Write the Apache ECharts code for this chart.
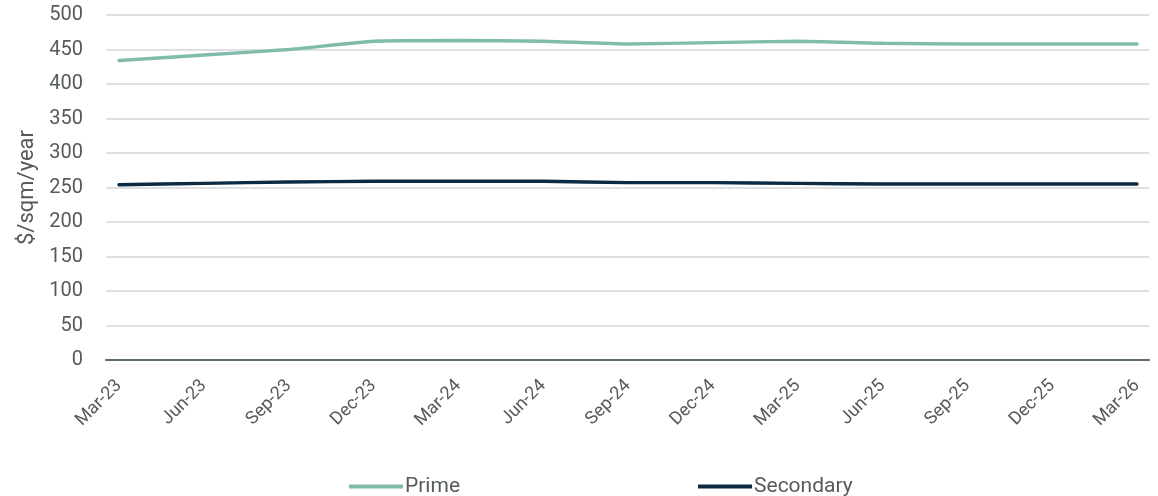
<!DOCTYPE html>
<html>
<head>
<meta charset="utf-8">
<script src="https://cdn.jsdelivr.net/npm/echarts@6/dist/echarts.min.js"></script>
<style>
  html, body { margin: 0; padding: 0; background: #ffffff; }
  #chart { width: 1158px; height: 496px; }
</style>
</head>
<body>
<div id="chart"></div>
<script>
// Quarterly rents, $/sqm/year
const quarters = ['Mar-23', 'Jun-23', 'Sep-23', 'Dec-23', 'Mar-24', 'Jun-24', 'Sep-24',
                  'Dec-24', 'Mar-25', 'Jun-25', 'Sep-25', 'Dec-25', 'Mar-26'];
const prime     = [434, 442, 450, 462, 463, 462, 458, 460, 462, 459, 458, 458, 458];
const secondary = [254, 256, 258, 259, 259, 259, 257, 257, 256, 255, 255, 255, 255];
const yTicks = { min: 0, max: 500, step: 50 };

const textColor = '#555a5e';
const fontFamily = 'Roboto, "Liberation Sans", sans-serif';

const chart = echarts.init(document.getElementById('chart'), null, { renderer: 'canvas' });

chart.setOption({
  animation: false,
  backgroundColor: '#ffffff',
  textStyle: { fontFamily: fontFamily },
  grid: [
    // frame grid: gridlines, y labels and the zero line
    { left: 106, right: 9, top: 15, bottom: 136 },
    // plotting grid: inset so the lines start and end inside the gridlines
    { left: 119, right: 21, top: 15, bottom: 136 }
  ],
  legend: {
    left: 349,
    top: 476,
    padding: 0,
    itemGap: 238,
    itemWidth: 54,
    itemHeight: 4,
    icon: 'rect',
    textStyle: { color: textColor, fontSize: 21, fontFamily: fontFamily, padding: [0, 0, 0, -3] },
    data: ['Prime', 'Secondary']
  },
  xAxis: [
    {
      gridIndex: 0, type: 'value', min: 0, max: 1,
      axisLine: { show: true, onZero: false, lineStyle: { color: '#5b6b6d', width: 2 } },
      axisTick: { show: false }, axisLabel: { show: false }, splitLine: { show: false }
    },
    {
      gridIndex: 1, type: 'category', data: quarters, boundaryGap: false,
      axisLine: { show: false }, axisTick: { show: false },
      axisLabel: {
        rotate: 45, margin: 23, color: textColor, fontSize: 18, fontFamily: fontFamily,
        interval: 0, verticalAlign: 'middle', padding: [10, 0, 0, 0]
      },
      splitLine: { show: false }
    }
  ],
  yAxis: [
    {
      gridIndex: 0, type: 'value', min: yTicks.min, max: yTicks.max, interval: yTicks.step,
      name: '$/sqm/year', nameLocation: 'middle', nameGap: 67, nameRotate: 90,
      nameTextStyle: { color: textColor, fontSize: 22, fontFamily: fontFamily },
      axisLine: { show: false }, axisTick: { show: false },
      axisLabel: { color: textColor, fontSize: 20, margin: 23, fontFamily: fontFamily },
      splitLine: { show: true, lineStyle: { color: '#d2d6d9', width: 1.6 } }
    },
    {
      gridIndex: 1, type: 'value', min: yTicks.min, max: yTicks.max, interval: yTicks.step,
      show: false, splitLine: { show: false }
    }
  ],
  series: [
    {
      name: 'Prime', type: 'line', xAxisIndex: 1, yAxisIndex: 1, data: prime,
      symbol: 'none', smooth: 0.15,
      lineStyle: { color: '#80bcab', width: 3.4, cap: 'round' },
      itemStyle: { color: '#80bcab' }
    },
    {
      name: 'Secondary', type: 'line', xAxisIndex: 1, yAxisIndex: 1, data: secondary,
      symbol: 'none', smooth: 0.15,
      lineStyle: { color: '#0b2a43', width: 3.4, cap: 'round' },
      itemStyle: { color: '#0b2a43' }
    }
  ]
});
</script>
</body>
</html>
